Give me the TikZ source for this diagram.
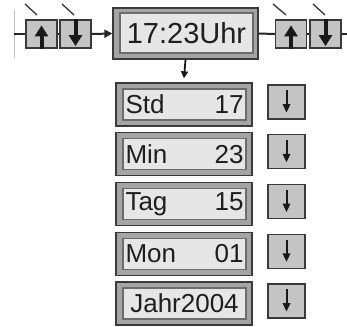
\documentclass[tikz,border=0pt]{standalone}
\usepackage{fontspec}
\setmainfont{Liberation Sans}
\usetikzlibrary{arrows.meta}
\definecolor{edgec}{HTML}{3A3A3A}
\definecolor{framec}{HTML}{A4A4A4}
\definecolor{innerc}{HTML}{E6E6E6}
\definecolor{inedge}{HTML}{6C6C6C}
\definecolor{btnc}{HTML}{C4C4C4}
\definecolor{txtc}{HTML}{1E1E1E}
\begin{document}
\begin{tikzpicture}[x=1pt,y=-1pt,
  outerbox/.style={draw=edgec, line width=1.3pt, fill=framec, inner sep=0pt},
  innerbox/.style={draw=inedge, line width=1.1pt, fill=innerc, inner sep=0pt, text=txtc},
  btn/.style={draw=edgec, line width=1.2pt, fill=btnc, inner sep=0pt, minimum width=31pt, minimum height=28pt},
  sbtn/.style={draw=edgec, line width=1.1pt, fill=btnc, inner sep=0pt, minimum width=37pt, minimum height=34pt},
  conn/.style={draw=black!85, line width=2pt},
  bigarrow/.style={line width=4pt, black!90, -{Triangle[width=13pt,length=11pt]}},
  smallarrow/.style={line width=2pt, black!90, -{Triangle[width=7.5pt,length=8.5pt]}},
  tick/.style={draw=black!75, line width=1.4pt},
  bigfont/.style={font=\fontsize{29}{30}\selectfont},
  midfont/.style={font=\fontsize{26}{27}\selectfont}
]
\useasboundingbox (0,0) rectangle (347,326);

% left guide line
\draw[black!25, line width=0.8pt] (14,10) -- (14,58);
\coordinate (lstart) at (14,34);
\coordinate (rend) at (347,34);

% top buttons
\node[btn] (up1) at (41.5,34) {};
\node[btn] (dn1) at (75.5,34) {};
\node[btn] (up2) at (291,34) {};
\node[btn] (dn2) at (325.5,34) {};

% big display
\node[outerbox, minimum width=145pt, minimum height=51pt] (big) at (185.5,33.5) {};
\node[innerbox, minimum width=133pt, minimum height=40pt, bigfont] (bigin) at (186.5,33) {17:23Uhr};

% connectors on top row
\draw[conn] (lstart) -- (up1.west);
\draw[conn] (up1.east) -- (dn1.west);
\draw[conn, -{Triangle[width=8pt,length=8pt]}] (dn1.east) -- (big.west);
\draw[conn] (big.east) -- (up2.west);
\draw[conn] (up2.east) -- (dn2.west);
\draw[conn] (dn2.east) -- (rend);

% arrows inside top buttons
\draw[bigarrow] (up1.south) -- ([yshift=-6pt]up1.north);
\draw[bigarrow] (dn1.north) -- ([yshift=2.5pt]dn1.south);
\draw[bigarrow] (up2.south) -- ([yshift=-6pt]up2.north);
\draw[bigarrow] (dn2.north) -- ([yshift=2.5pt]dn2.south);

% ticks above buttons
\draw[tick] (25,4) -- (37,15);
\draw[tick] (62,4) -- (74,15);
\draw[tick] (273,4) -- (286,15);
\draw[tick] (313,4) -- (325,15);

% value boxes
\foreach \nm/\lab/\val/\y in {std/Std/17/104.5, min/Min/23/154.25, tag/Tag/15/204, mon/Mon/01/253.75}{
  \node[outerbox, minimum width=136pt, minimum height=43pt] (\nm) at (184,\y) {};
  \node[innerbox, minimum width=123pt, minimum height=31pt, midfont, text width=118pt, align=left] (\nm in) at (184.5,\y) {\lab\hfill\val};
  \node[sbtn] (\nm b) at (286.5,\y-2.5) {};
  \draw[smallarrow] ([yshift=-6pt]\nm b.north) -- ([yshift=7pt]\nm b.south);
}
\node[outerbox, minimum width=136pt, minimum height=43pt] (jahr) at (184,303.5) {};
\node[innerbox, minimum width=123pt, minimum height=31pt, midfont] (jahrin) at (184.5,303.5) {Jahr2004};
\node[sbtn] (jahrb) at (286.5,301) {};
\draw[smallarrow] ([yshift=-6pt]jahrb.north) -- ([yshift=7pt]jahrb.south);

% arrow from display down to the list
\draw[line width=1.8pt, black!90, -{Triangle[width=7pt,length=7pt]}] (big.south) -- ([yshift=4pt]std.north);
\end{tikzpicture}
\end{document}
